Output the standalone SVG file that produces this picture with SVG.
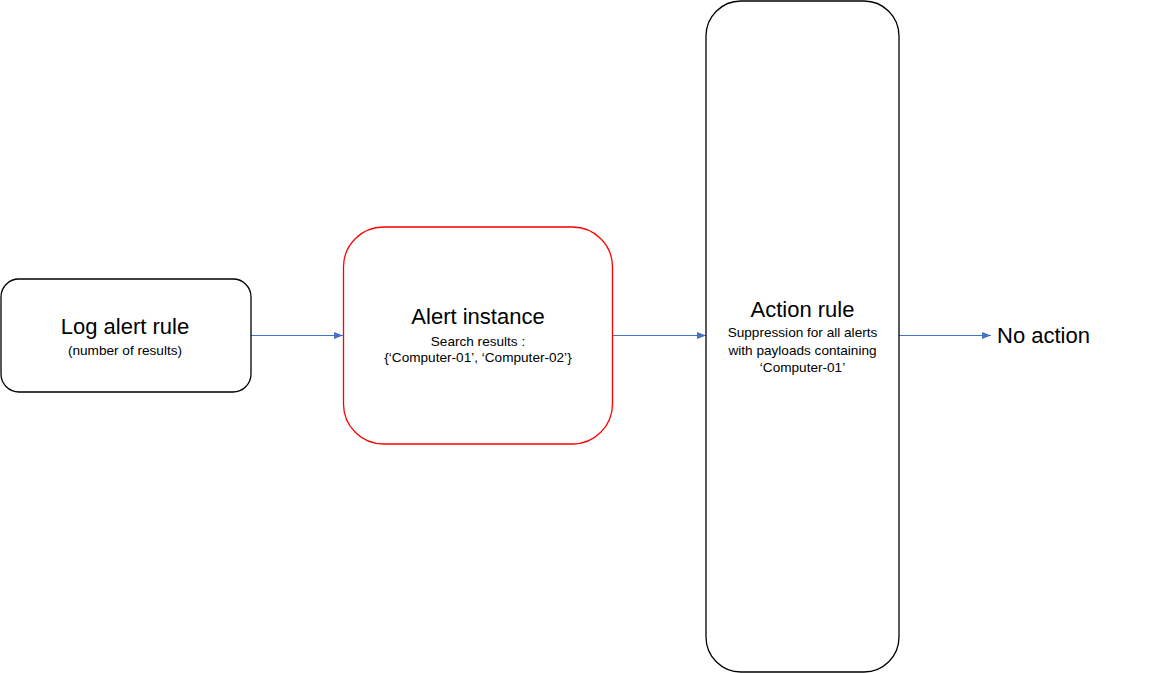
<svg xmlns="http://www.w3.org/2000/svg" width="1168" height="673" viewBox="0 0 1168 673">
<style>
.node{fill:#fff;stroke:#000;stroke-width:1.3}
.red{stroke:#ff0000}
.t{font-family:"Liberation Sans",Arial,sans-serif;fill:#000;text-anchor:middle}
.big{font-size:22px}
.sm{font-size:13.6px}
.conn{stroke:#4472c4;stroke-width:1.2;fill:none;marker-end:url(#ah)}
</style>
<defs>
<marker id="ah" viewBox="0 0 10 10" refX="10" refY="5" markerWidth="9" markerHeight="9" markerUnits="userSpaceOnUse" orient="auto">
<path d="M0,1 L10,5 L0,9 z" fill="#4472c4"/>
</marker>
</defs>
<rect width="1168" height="673" fill="#fff"/>
<g id="connectors">
<line class="conn" x1="251" y1="335.5" x2="343" y2="335.5"/>
<line class="conn" x1="612" y1="335.5" x2="706" y2="335.5"/>
<line class="conn" x1="899" y1="335.5" x2="991" y2="335.5"/>
</g>
<g id="log-alert-rule">
<rect class="node" x="1" y="279" width="250" height="113" rx="18" ry="18"/>
<text class="t big" x="125" y="334">Log alert rule</text>
<text class="t sm" x="125" y="355">(number of results)</text>
</g>
<g id="alert-instance">
<rect class="node red" x="343.5" y="227" width="269" height="217" rx="40" ry="40"/>
<text class="t big" x="478" y="324">Alert instance</text>
<text class="t sm" x="478" y="346">Search results :</text>
<text class="t sm" x="478" y="362">{‘Computer-01’, ‘Computer-02’}</text>
</g>
<g id="action-rule">
<rect class="node" x="706" y="1" width="193" height="671" rx="35" ry="35"/>
<text class="t big" x="802.5" y="317">Action rule</text>
<text class="t sm" x="802.5" y="337">Suppression for all alerts</text>
<text class="t sm" x="802.5" y="354.5">with payloads containing</text>
<text class="t sm" x="802.5" y="372">‘Computer-01’</text>
</g>
<g id="no-action">
<text class="t big" x="1043.5" y="343">No action</text>
</g>
</svg>
